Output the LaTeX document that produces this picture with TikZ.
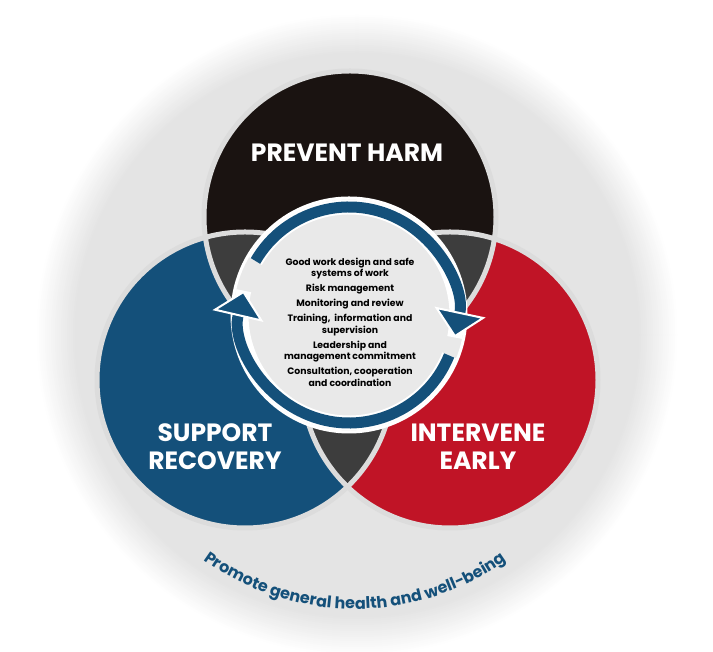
\documentclass[tikz,border=0pt]{standalone}
\usepackage{fontspec}
\setmainfont{Poppins}
\usetikzlibrary{arrows.meta,decorations.text}
\definecolor{cblack}{HTML}{1A1311}
\definecolor{cblue}{HTML}{14507A}
\definecolor{cred}{HTML}{C01426}
\definecolor{cdark}{HTML}{3D3D3D}
\definecolor{cline}{HTML}{DCDCDC}
\definecolor{cfill}{HTML}{E9E9E9}
\definecolor{cbg}{HTML}{E4E4E4}
\tikzset{
  heading/.style={text=white,font=\bfseries\fontsize{25}{30}\selectfont,align=center},
  ringline/.style={cblue,line width=11pt},
  ringback/.style={white,line width=15pt},
  ringtip/.style={-{Triangle[width=52pt,length=26pt,fill=cblue,color=white,line width=2pt]}},
}
\begin{document}
\begin{tikzpicture}[x=1pt,y=1pt]
\useasboundingbox (0,0) rectangle (713,652);
\foreach \i in {0,...,20}{
  \pgfmathsetmacro{\rr}{322-2*\i}
  \pgfmathsetmacro{\cc}{100*\i/20}
  \fill[cbg!\cc!white] (357,317) circle (\rr);
}
\coordinate (cB) at (350,435);
\coordinate (cL) at (245,272);
\coordinate (cR) at (450,272);
\fill[cblack] (cB) circle (146);
\fill[cblue] (cL) circle (148);
\fill[cred] (cR) circle (148);
\begin{scope}\clip (cB) circle (146); \fill[cdark] (cL) circle (148); \fill[cdark] (cR) circle (148);\end{scope}
\begin{scope}\clip (cL) circle (148); \fill[cdark] (cR) circle (148);\end{scope}
\draw[cline,line width=5pt] (cB) circle (146) (cL) circle (148) (cR) circle (148);
\coordinate (cC) at (349,337);
\fill[cfill,draw=white,line width=3pt] (cC) circle (117);
\draw[ringback] (cC) ++(-22:108) arc (-22:-193:108);
\draw[ringline,ringtip] (cC) ++(-22:108) arc (-22:-193:108);
\draw[ringback] (cC) ++(150:108) arc (150:-12:108);
\draw[ringline,ringtip] (cC) ++(150:108) arc (150:-12:108);
\node[heading] (ph) at (347,499) {PREVENT HARM};
\node[heading] (sr) at (215,205) {SUPPORT\\[-2pt]RECOVERY};
\node[heading] (ie) at (478,205) {INTERVENE\\[-2pt]EARLY};
\node[align=center,font=\bfseries\fontsize{9.3}{11.5}\selectfont,text=black] (ct) at (350,330)
 {Good work design and safe\\systems of work\\[3.5pt]Risk management\\[3.5pt]Monitoring and review\\[3.5pt]Training,\ \ information and\\supervision\\[3.5pt]Leadership and\\management commitment\\[3.5pt]Consultation, cooperation\\and coordination};
\coordinate (cT) at (355,302);
\path[decorate,decoration={text along path,text align=center,
  text={|\fontsize{16}{16}\selectfont\bfseries\color{cblue}|Promote general health and well-being}}]
  (cT) ++(214:259) arc (214:326:259);
\end{tikzpicture}
\end{document}
